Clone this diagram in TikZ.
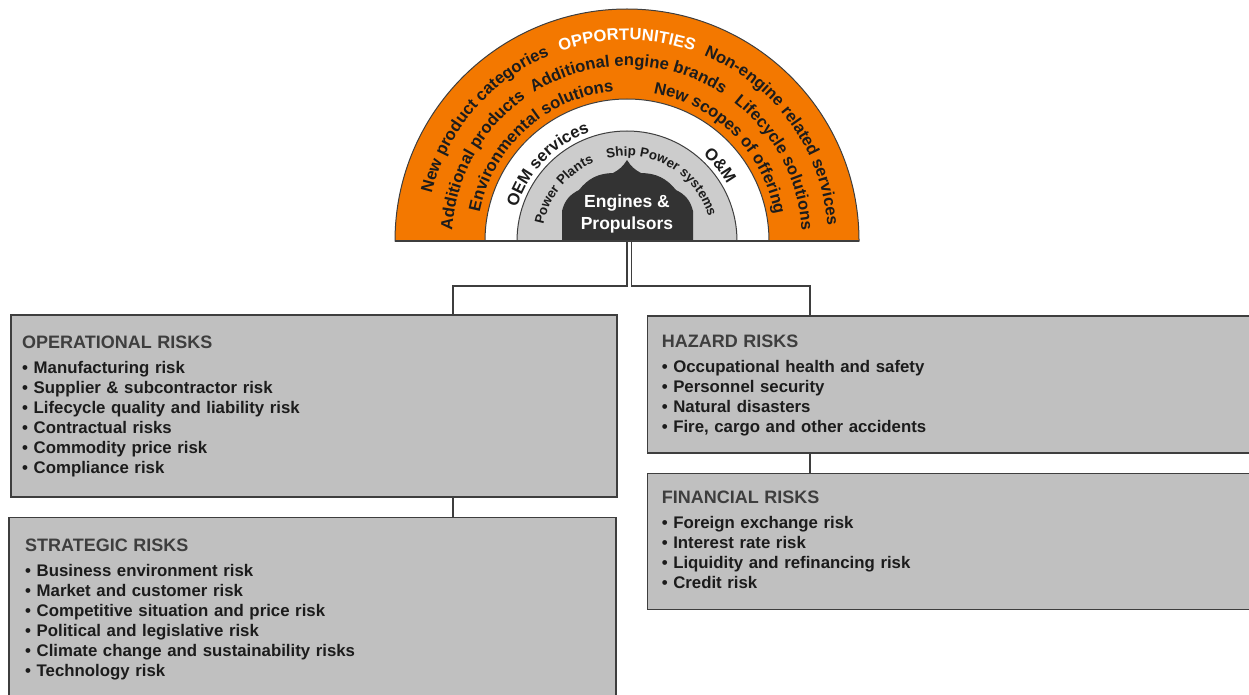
\documentclass[tikz,border=0pt]{standalone}
\usepackage{fontspec}
\setmainfont{Liberation Sans}
\usepackage{tikz}
\usetikzlibrary{positioning,calc,decorations.text}
\definecolor{oppOrange}{RGB}{243,120,0}
\definecolor{ringGray}{RGB}{204,204,204}
\definecolor{coreDark}{RGB}{51,51,51}
\definecolor{boxGray}{RGB}{192,192,192}
\definecolor{edgeGray}{RGB}{62,62,62}
\definecolor{headGray}{RGB}{62,62,62}
\definecolor{inkDark}{RGB}{28,28,28}

\newcommand{\itemfont}{\fontsize{16.8}{20}\selectfont\bfseries}
\newcommand{\headfont}{\fontsize{18}{20}\selectfont\bfseries\color{headGray}}
\newcommand{\arcfont}{\fontsize{16.6}{20}\selectfont\bfseries\color{inkDark}}
\newcommand{\ringfont}{\fontsize{13.3}{16}\selectfont\bfseries\color{inkDark}}
% radius, mid angle, format, text
\newcommand{\arclabel}[4]{%
  \path[decorate, decoration={text along path, text align=center, text={|#3|#4}}]
    (hub) ++(#2+60:#1) arc[start angle=#2+60, end angle=#2-60, radius=#1];}

\begin{document}
\begin{tikzpicture}[
            x=1pt, y=1pt,
            riskbox/.style={rectangle, draw=edgeGray, line width=1.6pt, fill=boxGray,
                            anchor=north west, inner sep=0pt},
            risktext/.style={anchor=base west, align=left, text width=560pt,
                             font=\itemfont, text=inkDark, inner sep=0pt},
            link/.style={draw=edgeGray, line width=1.4pt},
            rim/.style={draw=edgeGray, line width=1pt}
        ]
            \useasboundingbox (0,0) rectangle (1249,-695);
            \coordinate (hub) at (627,-241);

            % rings
            \filldraw[rim, fill=oppOrange] ([xshift=232pt]hub) arc[start angle=0, end angle=180, radius=232] -- cycle;
            \filldraw[rim, fill=white] ([xshift=142pt]hub) arc[start angle=0, end angle=180, radius=142] -- cycle;
            \filldraw[rim, fill=ringGray] ([xshift=110pt]hub) arc[start angle=0, end angle=180, radius=110] -- cycle;
            \fill[coreDark] (562,-241) -- (562,-211) to[bend left=25] (579,-190) to[bend left=25] (613,-173)
                to[bend right=15] (627,-160) to[bend right=15] (641,-173) to[bend left=25] (676,-190)
                to[bend left=25] (693,-211) -- (693,-241) -- cycle;
            \draw[edgeGray, line width=2pt] ([xshift=-232pt]hub) -- ([xshift=232pt]hub);

            \node[font=\fontsize{17.5}{22}\selectfont\bfseries, text=white, align=center, inner sep=0pt]
                (core) at (627,-214) {Engines \&\\Propulsors};

            % opportunities
            \arclabel{201}{139.5}{\arcfont}{New product categories}
            \arclabel{201}{90}{\arcfont\color{white}}{OPPORTUNITIES}
            \arclabel{201}{36}{\arcfont}{Non-engine related services}
            \arclabel{175}{151}{\arcfont}{Additional products}
            \arclabel{175}{89.5}{\arcfont}{Additional engine brands}
            \arclabel{175}{28}{\arcfont}{Lifecycle solutions}
            \arclabel{150}{132}{\arcfont}{Environmental solutions}
            \arclabel{150}{45}{\arcfont}{New scopes of offering}
            \arclabel{115}{136}{\arcfont}{OEM services}
            \arclabel{115}{39}{\arcfont}{O{\&}M}
            \arclabel{85}{141}{\ringfont}{Power Plants}
            \arclabel{85}{60}{\ringfont}{Ship Power systems}

            % risk boxes
            \node[riskbox, minimum width=606pt, minimum height=182pt] (oper) at (10,-314) {};
            \node[riskbox, minimum width=607pt, minimum height=200pt,
                  below=19pt of oper.south west, anchor=north west, xshift=-2pt] (strat) {};
            \node[riskbox, minimum width=620pt, minimum height=137pt,
                  right=29pt of oper.north east, anchor=north west, yshift=-1pt] (haz) {};
            \node[riskbox, minimum width=620pt, minimum height=136pt,
                  below=19pt of haz.south west, anchor=north west] (fin) {};

            \node[risktext] (opertxt) at ([shift={(12,-34)}]oper.north west)
                {{\headfont OPERATIONAL RISKS}\\[5pt]
                 \textbullet\ Manufacturing risk\\
                 \textbullet\ Supplier \& subcontractor risk\\
                 \textbullet\ Lifecycle quality and liability risk\\
                 \textbullet\ Contractual risks\\
                 \textbullet\ Commodity price risk\\
                 \textbullet\ Compliance risk};
            \node[risktext] (strattxt) at ([shift={(17,-35)}]strat.north west)
                {{\headfont STRATEGIC RISKS}\\[5pt]
                 \textbullet\ Business environment risk\\
                 \textbullet\ Market and customer risk\\
                 \textbullet\ Competitive situation and price risk\\
                 \textbullet\ Political and legislative risk\\
                 \textbullet\ Climate change and sustainability risks\\
                 \textbullet\ Technology risk};
            \node[risktext] (haztxt) at ([shift={(15,-32)}]haz.north west)
                {{\headfont HAZARD RISKS}\\[5pt]
                 \textbullet\ Occupational health and safety\\
                 \textbullet\ Personnel security\\
                 \textbullet\ Natural disasters\\
                 \textbullet\ Fire, cargo and other accidents};
            \node[risktext] (fintxt) at ([shift={(15,-31)}]fin.north west)
                {{\headfont FINANCIAL RISKS}\\[5pt]
                 \textbullet\ Foreign exchange risk\\
                 \textbullet\ Interest rate risk\\
                 \textbullet\ Liquidity and refinancing risk\\
                 \textbullet\ Credit risk};

            % connectors
            \coordinate (forkL) at (453,-286);
            \coordinate (forkR) at (810,-286);
            \draw[link] ([xshift=0pt]hub) |- (forkL) -- (forkL |- oper.north);
            \draw[link] ([xshift=4.5pt]hub) |- (forkR) -- (forkR |- haz.north);
            \draw[link] (forkL |- oper.south) -- (forkL |- strat.north);
            \draw[link] (forkR |- haz.south) -- (forkR |- fin.north);
        \end{tikzpicture}
\end{document}
